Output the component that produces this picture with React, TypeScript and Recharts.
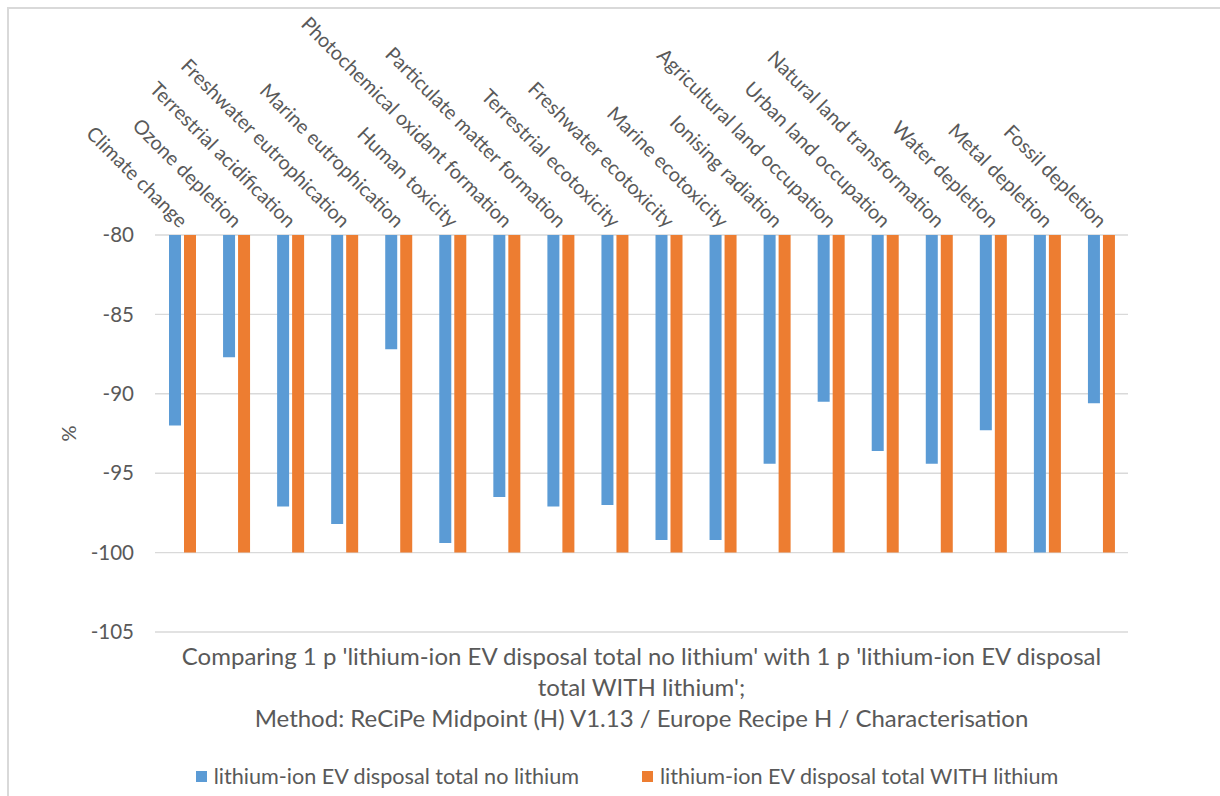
import { BarChart, Bar, XAxis, YAxis, CartesianGrid, Legend } from 'recharts';

const categories = [
  'Climate change',
  'Ozone depletion',
  'Terrestrial acidification',
  'Freshwater eutrophication',
  'Marine eutrophication',
  'Human toxicity',
  'Photochemical oxidant formation',
  'Particulate matter formation',
  'Terrestrial ecotoxicity',
  'Freshwater ecotoxicity',
  'Marine ecotoxicity',
  'Ionising radiation',
  'Agricultural land occupation',
  'Urban land occupation',
  'Natural land transformation',
  'Water depletion',
  'Metal depletion',
  'Fossil depletion',
];

// % relative to the reference product
const noLithium = [
  -92.0, -87.7, -97.1, -98.2, -87.2, -99.4, -96.5, -97.1, -97.0,
  -99.2, -99.2, -94.4, -90.5, -93.6, -94.4, -92.3, -100.0, -90.6,
];
const withLithium = [
  -100, -100, -100, -100, -100, -100, -100, -100, -100,
  -100, -100, -100, -100, -100, -100, -100, -100, -100,
];

const yTicks = [-105, -100, -95, -90, -85, -80];

const seriesNames = {
  noLithium: 'lithium-ion EV disposal total no lithium',
  withLithium: 'lithium-ion EV disposal total WITH lithium',
};

const captionLines = [
  "Comparing 1 p 'lithium-ion EV disposal total no lithium' with 1 p 'lithium-ion EV disposal",
  "total WITH lithium';",
  'Method: ReCiPe Midpoint (H) V1.13 / Europe Recipe H / Characterisation',
];

const BLUE = '#5B9BD5';
const ORANGE = '#ED7D31';
const TEXT = '#595959';
const FONT = 'Lato, "Open Sans", sans-serif';

const data = categories.map((name, i) => ({
  name,
  noLithium: noLithium[i],
  withLithium: withLithium[i],
}));

// category names sit above the plot, slanted down to the right
const CategoryTick = ({ x, y, payload }: any) => {
  const tx = x + 2;
  const ty = y - 11;
  return (
    <text
      x={tx}
      y={ty}
      dy="0.35em"
      textAnchor="end"
      transform={`rotate(45 ${tx} ${ty})`}
      fill={TEXT}
      fontSize={19.8}
      fontFamily={FONT}
    >
      {payload.value}
    </text>
  );
};

const PercentLabel = ({ viewBox }: any) => {
  const cx = 69;
  const cy = viewBox.y + viewBox.height / 2;
  return (
    <text
      x={cx}
      y={cy}
      dy="0.35em"
      textAnchor="middle"
      transform={`rotate(-90 ${cx} ${cy})`}
      fill={TEXT}
      fontSize={20}
      fontFamily={FONT}
    >
      %
    </text>
  );
};

const renderLegend = () => (
  <div
    style={{
      display: 'flex',
      justifyContent: 'center',
      gap: 63,
      fontFamily: FONT,
      fontSize: 21.6,
      lineHeight: '26px',
      color: TEXT,
      paddingLeft: 34,
    }}
  >
    {[
      { label: seriesNames.noLithium, color: BLUE },
      { label: seriesNames.withLithium, color: ORANGE },
    ].map((item) => (
      <div key={item.label} style={{ display: 'flex', alignItems: 'center' }}>
        <svg width={11} height={11} style={{ marginRight: 7, flexShrink: 0 }}>
          <rect width={11} height={11} fill={item.color} />
        </svg>
        <span style={{ whiteSpace: 'nowrap' }}>{item.label}</span>
      </div>
    ))}
  </div>
);

export default function App() {
  return (
    <div
      style={{
        position: 'absolute',
        left: 0,
        top: 0,
        width: 1220,
        height: 796,
        overflow: 'hidden',
        background: '#ffffff',
        fontFamily: FONT,
      }}
    >
      {/* chart frame */}
      <div
        style={{
          position: 'absolute',
          left: 7,
          top: 7,
          width: 1220,
          height: 800,
          border: '2px solid #d9d9d9',
        }}
      />

      <div style={{ position: 'absolute', left: 0, top: 0 }}>
        <BarChart
          width={1220}
          height={796}
          data={data}
          margin={{ top: 205, right: 92, left: 75, bottom: 164 }}
          barSize={12}
          barGap={3}
        >
          <CartesianGrid vertical={false} stroke="#d9d9d9" strokeWidth={1.4} />
          <XAxis
            dataKey="name"
            orientation="top"
            height={30}
            axisLine={false}
            tickLine={false}
            tickSize={0}
            tickMargin={0}
            interval={0}
            tick={<CategoryTick />}
          />
          <YAxis
            width={80}
            domain={[-105, -80]}
            ticks={yTicks}
            axisLine={false}
            tickLine={false}
            tickSize={0}
            tickMargin={21}
            tick={{ fill: TEXT, fontSize: 20.5, fontFamily: FONT }}
            label={<PercentLabel />}
          />
          <Legend
            verticalAlign="middle"
            layout="horizontal"
            content={renderLegend}
            wrapperStyle={{ top: 763, left: 0, width: 1220 }}
          />
          <Bar dataKey="noLithium" name={seriesNames.noLithium} fill={BLUE} isAnimationActive={false} />
          <Bar dataKey="withLithium" name={seriesNames.withLithium} fill={ORANGE} isAnimationActive={false} />
        </BarChart>
      </div>

      {/* method caption under the plot */}
      <div
        style={{
          position: 'absolute',
          left: 140,
          top: 640,
          width: 1003,
          textAlign: 'center',
          fontSize: 24,
          lineHeight: '31px',
          color: TEXT,
        }}
      >
        {captionLines.map((line) => (
          <div key={line}>{line}</div>
        ))}
      </div>
    </div>
  );
}
